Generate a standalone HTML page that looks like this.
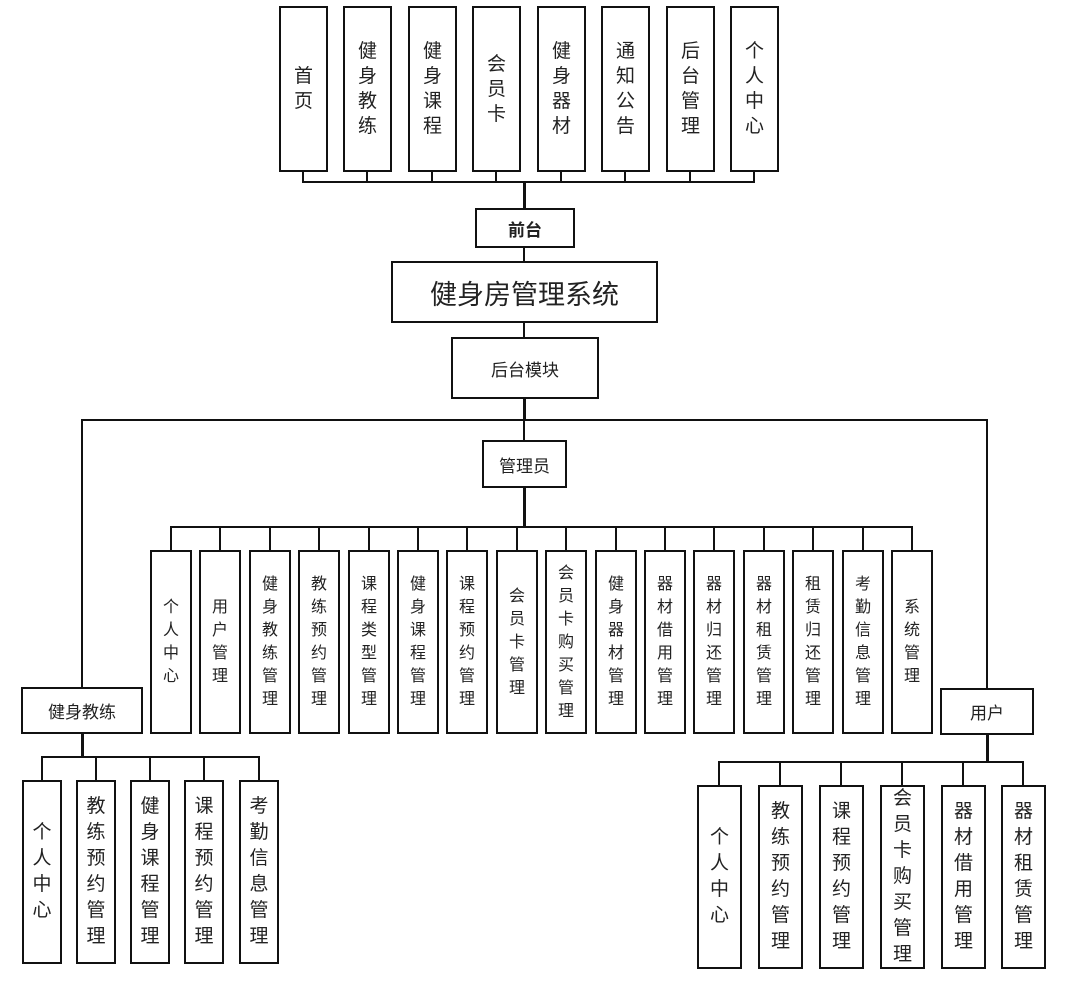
<!DOCTYPE html>
<html><head><meta charset="utf-8"><style>
body{margin:0;background:#fff;}
#c{position:relative;width:1092px;height:990px;overflow:hidden;font-family:"Liberation Sans","Noto Sans CJK SC",sans-serif;color:#222;}
.b{position:absolute;box-sizing:border-box;border:2px solid #111;display:flex;align-items:center;justify-content:center;text-align:center;background:#fff;}
.l{position:absolute;background:#111;}
.t{font-size:19px;line-height:25px;}
.a{font-size:16px;line-height:23px;}
.s{font-size:19px;line-height:26px;}
</style></head><body><div id="c">
<!-- top boxes -->
<div class="b t" style="left:279px;top:6px;width:49px;height:166px">首<br>页</div>
<div class="b t" style="left:343px;top:6px;width:49px;height:166px">健<br>身<br>教<br>练</div>
<div class="b t" style="left:408px;top:6px;width:49px;height:166px">健<br>身<br>课<br>程</div>
<div class="b t" style="left:472px;top:6px;width:49px;height:166px">会<br>员<br>卡</div>
<div class="b t" style="left:537px;top:6px;width:49px;height:166px">健<br>身<br>器<br>材</div>
<div class="b t" style="left:601px;top:6px;width:49px;height:166px">通<br>知<br>公<br>告</div>
<div class="b t" style="left:666px;top:6px;width:49px;height:166px">后<br>台<br>管<br>理</div>
<div class="b t" style="left:730px;top:6px;width:49px;height:166px">个<br>人<br>中<br>心</div>
<div class="l" style="left:302px;top:171px;width:2px;height:12px"></div>
<div class="l" style="left:366px;top:171px;width:2px;height:12px"></div>
<div class="l" style="left:431px;top:171px;width:2px;height:12px"></div>
<div class="l" style="left:495px;top:171px;width:2px;height:12px"></div>
<div class="l" style="left:560px;top:171px;width:2px;height:12px"></div>
<div class="l" style="left:624px;top:171px;width:2px;height:12px"></div>
<div class="l" style="left:689px;top:171px;width:2px;height:12px"></div>
<div class="l" style="left:753px;top:171px;width:2px;height:12px"></div>
<div class="l" style="left:302px;top:181px;width:453px;height:2px"></div>
<div class="l" style="left:523px;top:181px;width:3px;height:28px"></div>
<div class="b" style="left:475px;top:208px;width:100px;height:40px;font-size:17px;font-weight:bold">前台</div>
<div class="l" style="left:523px;top:247px;width:2px;height:15px"></div>
<div class="b" style="left:391px;top:261px;width:267px;height:62px;font-size:27px">健身房管理系统</div>
<div class="l" style="left:523px;top:322px;width:2px;height:16px"></div>
<div class="b" style="left:451px;top:337px;width:148px;height:62px;font-size:17px">后台模块</div>
<div class="l" style="left:523px;top:398px;width:3px;height:23px"></div>
<div class="l" style="left:81px;top:419px;width:907px;height:2px"></div>
<div class="l" style="left:523px;top:419px;width:2px;height:22px"></div>
<div class="b" style="left:482px;top:440px;width:85px;height:48px;font-size:17px">管理员</div>
<div class="l" style="left:523px;top:487px;width:3px;height:41px"></div>
<div class="l" style="left:170px;top:526px;width:743px;height:2px"></div>
<!-- admin boxes -->
<div class="b a" style="left:150px;top:550px;width:42px;height:184px">个<br>人<br>中<br>心</div>
<div class="b a" style="left:199px;top:550px;width:42px;height:184px">用<br>户<br>管<br>理</div>
<div class="b a" style="left:249px;top:550px;width:42px;height:184px">健<br>身<br>教<br>练<br>管<br>理</div>
<div class="b a" style="left:298px;top:550px;width:42px;height:184px">教<br>练<br>预<br>约<br>管<br>理</div>
<div class="b a" style="left:348px;top:550px;width:42px;height:184px">课<br>程<br>类<br>型<br>管<br>理</div>
<div class="b a" style="left:397px;top:550px;width:42px;height:184px">健<br>身<br>课<br>程<br>管<br>理</div>
<div class="b a" style="left:446px;top:550px;width:42px;height:184px">课<br>程<br>预<br>约<br>管<br>理</div>
<div class="b a" style="left:496px;top:550px;width:42px;height:184px">会<br>员<br>卡<br>管<br>理</div>
<div class="b a" style="left:545px;top:550px;width:42px;height:184px">会<br>员<br>卡<br>购<br>买<br>管<br>理</div>
<div class="b a" style="left:595px;top:550px;width:42px;height:184px">健<br>身<br>器<br>材<br>管<br>理</div>
<div class="b a" style="left:644px;top:550px;width:42px;height:184px">器<br>材<br>借<br>用<br>管<br>理</div>
<div class="b a" style="left:693px;top:550px;width:42px;height:184px">器<br>材<br>归<br>还<br>管<br>理</div>
<div class="b a" style="left:743px;top:550px;width:42px;height:184px">器<br>材<br>租<br>赁<br>管<br>理</div>
<div class="b a" style="left:792px;top:550px;width:42px;height:184px">租<br>赁<br>归<br>还<br>管<br>理</div>
<div class="b a" style="left:842px;top:550px;width:42px;height:184px">考<br>勤<br>信<br>息<br>管<br>理</div>
<div class="b a" style="left:891px;top:550px;width:42px;height:184px">系<br>统<br>管<br>理</div>
<div class="l" style="left:170px;top:526px;width:2px;height:25px"></div>
<div class="l" style="left:219px;top:526px;width:2px;height:25px"></div>
<div class="l" style="left:269px;top:526px;width:2px;height:25px"></div>
<div class="l" style="left:318px;top:526px;width:2px;height:25px"></div>
<div class="l" style="left:368px;top:526px;width:2px;height:25px"></div>
<div class="l" style="left:417px;top:526px;width:2px;height:25px"></div>
<div class="l" style="left:466px;top:526px;width:2px;height:25px"></div>
<div class="l" style="left:516px;top:526px;width:2px;height:25px"></div>
<div class="l" style="left:565px;top:526px;width:2px;height:25px"></div>
<div class="l" style="left:615px;top:526px;width:2px;height:25px"></div>
<div class="l" style="left:664px;top:526px;width:2px;height:25px"></div>
<div class="l" style="left:713px;top:526px;width:2px;height:25px"></div>
<div class="l" style="left:763px;top:526px;width:2px;height:25px"></div>
<div class="l" style="left:812px;top:526px;width:2px;height:25px"></div>
<div class="l" style="left:862px;top:526px;width:2px;height:25px"></div>
<div class="l" style="left:911px;top:526px;width:2px;height:25px"></div>
<!-- coach -->
<div class="l" style="left:81px;top:419px;width:2px;height:270px"></div>
<div class="b" style="left:21px;top:687px;width:122px;height:47px;font-size:17px">健身教练</div>
<div class="l" style="left:81px;top:733px;width:3px;height:25px"></div>
<div class="l" style="left:41px;top:756px;width:219px;height:2px"></div>
<div class="l" style="left:41px;top:756px;width:2px;height:25px"></div>
<div class="l" style="left:95px;top:756px;width:2px;height:25px"></div>
<div class="l" style="left:149px;top:756px;width:2px;height:25px"></div>
<div class="l" style="left:203px;top:756px;width:2px;height:25px"></div>
<div class="l" style="left:258px;top:756px;width:2px;height:25px"></div>
<div class="b s" style="left:22px;top:780px;width:40px;height:184px">个<br>人<br>中<br>心</div>
<div class="b s" style="left:76px;top:780px;width:40px;height:184px">教<br>练<br>预<br>约<br>管<br>理</div>
<div class="b s" style="left:130px;top:780px;width:40px;height:184px">健<br>身<br>课<br>程<br>管<br>理</div>
<div class="b s" style="left:184px;top:780px;width:40px;height:184px">课<br>程<br>预<br>约<br>管<br>理</div>
<div class="b s" style="left:239px;top:780px;width:40px;height:184px">考<br>勤<br>信<br>息<br>管<br>理</div>
<!-- user -->
<div class="l" style="left:986px;top:419px;width:2px;height:270px"></div>
<div class="b" style="left:940px;top:688px;width:94px;height:47px;font-size:17px">用户</div>
<div class="l" style="left:986px;top:734px;width:3px;height:29px"></div>
<div class="l" style="left:718px;top:761px;width:306px;height:2px"></div>
<div class="l" style="left:718px;top:761px;width:2px;height:25px"></div>
<div class="l" style="left:779px;top:761px;width:2px;height:25px"></div>
<div class="l" style="left:840px;top:761px;width:2px;height:25px"></div>
<div class="l" style="left:901px;top:761px;width:2px;height:25px"></div>
<div class="l" style="left:962px;top:761px;width:2px;height:25px"></div>
<div class="l" style="left:1022px;top:761px;width:2px;height:25px"></div>
<div class="b s" style="left:697px;top:785px;width:45px;height:184px">个<br>人<br>中<br>心</div>
<div class="b s" style="left:758px;top:785px;width:45px;height:184px">教<br>练<br>预<br>约<br>管<br>理</div>
<div class="b s" style="left:819px;top:785px;width:45px;height:184px">课<br>程<br>预<br>约<br>管<br>理</div>
<div class="b s" style="left:880px;top:785px;width:45px;height:184px">会<br>员<br>卡<br>购<br>买<br>管<br>理</div>
<div class="b s" style="left:941px;top:785px;width:45px;height:184px">器<br>材<br>借<br>用<br>管<br>理</div>
<div class="b s" style="left:1001px;top:785px;width:45px;height:184px">器<br>材<br>租<br>赁<br>管<br>理</div>
</div></body></html>
